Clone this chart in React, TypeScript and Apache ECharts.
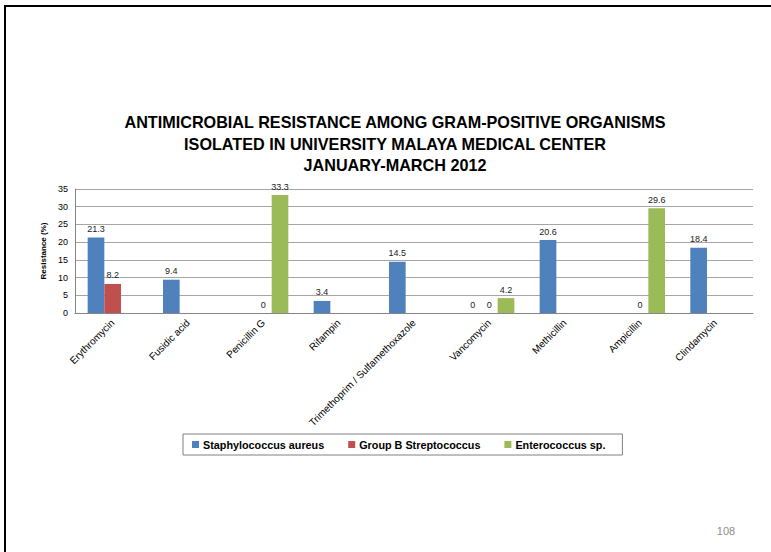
import React, { useEffect, useRef } from "react";
import * as echarts from "echarts";

const categories = [
  "Erythromycin",
  "Fusidic acid",
  "Penicillin G",
  "Rifampin",
  "Trimethoprim / Sulfamethoxazole",
  "Vancomycin",
  "Methicillin",
  "Ampicillin",
  "Clindamycin",
];
const staphAureus = [21.3, 9.4, null, 3.4, 14.5, 0, 20.6, null, 18.4];
const groupBStrep = [8.2, null, 0, null, null, 0, null, 0, null];
const enterococcus = [null, null, 33.3, null, null, 4.2, null, 29.6, null];
const seriesNames = ["Staphylococcus aureus", "Group B Streptococcus", "Enterococcus sp."];
const titleLines = [
  "ANTIMICROBIAL RESISTANCE AMONG GRAM-POSITIVE ORGANISMS",
  "ISOLATED IN UNIVERSITY MALAYA MEDICAL CENTER",
  "JANUARY-MARCH 2012",
];
const yAxisTitle = "Resistance (%)";
const pageNumber = "108";

const FONT = "'Liberation Sans', Arial, sans-serif";
const colors = ["#4F81BD", "#C0504D", "#9BBB59"];

export default function App() {
  const ref = useRef<HTMLDivElement>(null);
  useEffect(() => {
    if (!ref.current) return;
    const chart = echarts.init(ref.current, null, { renderer: "svg" });
    const label = {
      show: true,
      position: "top",
      distance: 4,
      fontSize: 9,
      color: "#222",
      fontFamily: FONT,
    };
    const mk = (name: string, data: (number | null)[], color: string) => ({
      name,
      type: "bar",
      data,
      itemStyle: { color },
      label,
      barGap: "0%",
      barCategoryGap: "33.6%",
    });
    chart.setOption({
      animation: false,
      textStyle: { fontFamily: FONT },
      graphic: [
        {
          type: "polyline",
          shape: { points: [[5, 560], [5, 6], [780, 6]] },
          style: { stroke: "#000", lineWidth: 2, fill: "none" },
        },
        ...titleLines.map((t, i) => ({
          type: "text",
          x: 395,
          y: 122 + i * 21.5,
          style: {
            text: t,
            fontSize: 16.2,
            fontWeight: "bold",
            fontFamily: FONT,
            fill: "#000",
            textAlign: "center",
            textVerticalAlign: "middle",
          },
        })),
        {
          type: "text",
          x: 726,
          y: 531,
          style: {
            text: pageNumber,
            fontSize: 11,
            fontFamily: FONT,
            fill: "#8c8c8c",
            textAlign: "center",
            textVerticalAlign: "middle",
          },
        },
      ],
      legend: {
        data: seriesNames,
        left: 183,
        top: 434,
        orient: "horizontal",
        itemWidth: 7,
        itemHeight: 7,
        itemGap: 24,
        padding: [5, 17, 5, 9],
        borderColor: "#808080",
        borderWidth: 1,
        textStyle: { fontSize: 10.8, fontWeight: "bold", color: "#000", fontFamily: FONT, padding: [0, 0, 0, -1] },
        icon: "rect",
      },
      grid: { left: 75, right: 18, top: 189, bottom: 239, containLabel: false },
      xAxis: {
        type: "category",
        data: categories,
        axisLine: { lineStyle: { color: "#868686" } },
        axisTick: { show: false },
        axisLabel: {
          rotate: 45,
          interval: 0,
          fontSize: 10,
          color: "#000",
          margin: 8,
          fontFamily: FONT,
        },
      },
      yAxis: {
        type: "value",
        min: 0,
        max: 35,
        interval: 5,
        name: yAxisTitle,
        nameLocation: "middle",
        nameGap: 26,
        nameTextStyle: { fontSize: 8, fontWeight: "bold", color: "#000", fontFamily: FONT },
        axisLine: { show: true, lineStyle: { color: "#868686" } },
        axisTick: { show: false },
        axisLabel: { fontSize: 9, color: "#000", margin: 7, fontFamily: FONT },
        splitLine: { lineStyle: { color: "#a6a6a6" } },
      },
      series: [
        mk(seriesNames[0], staphAureus, colors[0]),
        mk(seriesNames[1], groupBStrep, colors[1]),
        mk(seriesNames[2], enterococcus, colors[2]),
      ],
    });
    return () => chart.dispose();
  }, []);
  return (
    <div
      ref={ref}
      style={{ position: "fixed", left: 0, top: 0, width: 771, height: 552, background: "#fff" }}
    />
  );
}
